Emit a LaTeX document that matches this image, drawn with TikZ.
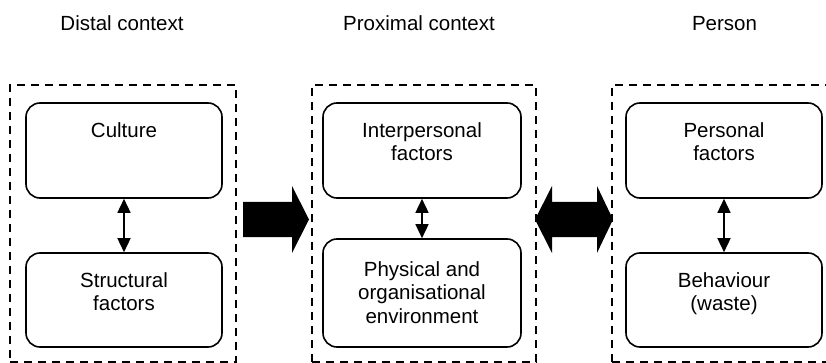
\documentclass[tikz,border=0pt]{standalone}
\usepackage{fontspec}
\setmainfont{Liberation Sans}
\usetikzlibrary{arrows.meta}
\begin{document}
\begin{tikzpicture}[x=1pt,y=-1pt,
  txt/.style={font=\fontsize{20.5}{23.5}\selectfont},
  panel/.style={draw, dash pattern=on 8pt off 6pt, line width=1.3pt, inner sep=0pt, minimum width=224pt, minimum height=277pt},
  ibox/.style={draw, rounded corners=14pt, line width=1.6pt, inner sep=0pt, minimum width=196pt},
  itext/.style={txt, align=center, anchor=north, inner sep=0pt},
  link/.style={line width=1.5pt, {Triangle[length=14pt,width=13pt]}-{Triangle[length=14pt,width=13pt]}},
  bigarrow/.style={fill=black, draw=none}]
\useasboundingbox (0,0) rectangle (826,363);
% titles
\node[txt, anchor=base] (t1) at (122,31) {Distal context};
\node[txt, anchor=base] (t2) at (419,31) {Proximal context};
\node[txt, anchor=base] (t3) at (724.5,31) {Person};
% panels
\node[panel, minimum width=226pt] (p1) at (123,223.5) {};
\node[panel] (p2) at (424,223.5) {};
\node[panel] (p3) at (724,223.5) {};
% boxes
\node[ibox, minimum height=95pt] (culture) at (124,150.5) {};
\node[ibox, minimum height=94pt] (struct) at (124,300) {};
\node[ibox, minimum width=198pt, minimum height=95pt] (inter) at (422,150.5) {};
\node[ibox, minimum width=198pt, minimum height=108pt] (phys) at (422,293) {};
\node[ibox, minimum height=95pt] (pers) at (724,150.5) {};
\node[ibox, minimum height=94pt] (behav) at (724,300) {};
% texts
\node[itext] (culturet) at ([yshift=-20pt]culture.north) {Culture};
\node[itext] (structt) at ([yshift=-20pt]struct.north) {Structural\\factors};
\node[itext] (intert) at ([yshift=-20pt]inter.north) {Interpersonal\\factors};
\node[itext] (physt) at ([yshift=-23pt]phys.north) {Physical and\\organisational\\environment};
\node[itext] (perst) at ([yshift=-20pt]pers.north) {Personal\\factors};
\node[itext] (behavt) at ([yshift=-20pt]behav.north) {Behaviour\\(waste)};
% links
\draw[link] (culture.south) -- (struct.north);
\draw[link] (inter.south) -- (phys.north);
\draw[link] (pers.south) -- (behav.north);
% big arrows
\fill[bigarrow] (243,202) -- (292,202) -- (292,186) -- (309,219.5) -- (292,253) -- (292,237) -- (243,237) -- cycle;
\fill[bigarrow] (535,219.5) -- (552,186) -- (552,202) -- (597,202) -- (597,186) -- (613,219.5) -- (597,253) -- (597,237) -- (552,237) -- (552,253) -- cycle;
\end{tikzpicture}
\end{document}
